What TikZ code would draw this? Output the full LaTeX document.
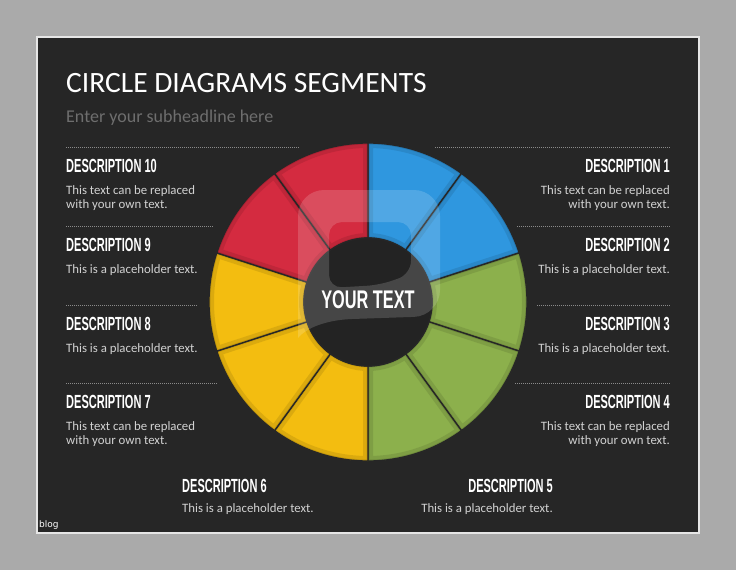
\documentclass[tikz,border=0pt]{standalone}
\usepackage{fontspec}
\setmainfont{Carlito}
\newfontfamily\headfont[FakeStretch=0.58]{Liberation Sans Bold}
\newfontfamily\hubfont[FakeStretch=0.64]{Liberation Sans Bold}
\newfontfamily\tagfont{DejaVu Sans}

\definecolor{pagegray}{HTML}{AAAAAA}
\definecolor{slidebg}{HTML}{262626}
\definecolor{slideedge}{HTML}{E6E6E6}
\definecolor{subgray}{HTML}{6E6E6E}
\definecolor{txtgray}{HTML}{D2D2D2}
\definecolor{dotgray}{HTML}{8A8A8A}
\definecolor{segred}{HTML}{D42B40}
\definecolor{segblue}{HTML}{2F97DF}
\definecolor{seggreen}{HTML}{8CB04C}
\definecolor{segyellow}{HTML}{F3BD10}
\definecolor{hubfill}{HTML}{232323}

\newcommand\segpath[1]{(#1:64) -- (#1:159) arc[start angle=#1, end angle=#1-36, radius=159] -- ({#1-36}:64) arc[start angle=#1-36, end angle=#1, radius=64] -- cycle}

\tikzset{
  heading/.style={font=\headfont\fontsize{19}{19}\selectfont, text=white, inner sep=0pt},
  bodytext/.style={font=\fontsize{12.8}{14}\selectfont, text=txtgray, inner sep=0pt},
  sepline/.style={dotgray, line width=1pt, dash pattern=on 1pt off 1pt},
  segedge/.style={draw=black!85, line width=1.3pt}
}

\begin{document}
\begin{tikzpicture}[x=1pt,y=-1pt]
  \useasboundingbox (0,0) rectangle (736,570);
  \fill[pagegray] (0,0) rectangle (736,570);
  \draw[slideedge, fill=slidebg, line width=1.5pt] (37,37) rectangle (699,533);

  % title
  \node[anchor=base west, inner sep=0pt, text=white, font=\fontsize{29.5}{30}\selectfont] (title) at (66,92) {CIRCLE DIAGRAMS SEGMENTS};
  \node[anchor=base west, inner sep=0pt, text=subgray, font=\fontsize{18}{18}\selectfont] (subtitle) at (66,122) {Enter your subheadline here};

  % ring of ten segments
  \begin{scope}[shift={(368,302)}, y=1pt]
    \foreach \a/\c in {90/segblue, 54/segblue, 18/seggreen, -18/seggreen, -54/seggreen,
                       -90/segyellow, -126/segyellow, -162/segyellow, 162/segred, 126/segred} {
      \fill[\c] \segpath{\a};
      \begin{scope}
        \clip \segpath{\a};
        \draw[\c!55!black, line width=10pt, opacity=.22] \segpath{\a};
        \draw[\c!55!black, line width=3pt, opacity=.3] \segpath{\a};
      \end{scope}
      \draw[segedge] \segpath{\a};
    }
    \fill[hubfill] (0,0) coordinate (hub) circle (64);
    \draw[segedge] (hub) circle (64);
  \end{scope}

  % faint logo over the hub
  \fill[white, opacity=.16, even odd rule]
    [rounded corners=26] (298,338) -- (298,190) -- (440,190) -- (440,316)
    [sharp corners] -- (352,319) .. controls (326,320) and (306,328) .. (298,338) -- cycle
    [rounded corners=13] (329,288) -- (329,222) -- (411,222) -- (411,274) -- (380,285) -- cycle;

  \node[anchor=base, inner sep=0pt, text=white, font=\hubfont\fontsize{25.5}{26}\selectfont] (yourtext) at (368,308) {YOUR TEXT};

  % left column
  \draw[sepline] (66,147) -- (299,147);
  \node[heading, anchor=base west] (d10) at (66,172) {DESCRIPTION 10};
  \node[bodytext, anchor=base west] (t10a) at (66,194) {This text can be replaced};
  \node[bodytext, anchor=base west] (t10b) at (66,208) {with your own text.};

  \draw[sepline] (66,226) -- (214,226);
  \node[heading, anchor=base west] (d9) at (66,251) {DESCRIPTION 9};
  \node[bodytext, anchor=base west] (t9) at (66,273) {This is a placeholder text.};

  \draw[sepline] (66,305) -- (197,305);
  \node[heading, anchor=base west] (d8) at (66,330) {DESCRIPTION 8};
  \node[bodytext, anchor=base west] (t8) at (66,352) {This is a placeholder text.};

  \draw[sepline] (66,383) -- (218,383);
  \node[heading, anchor=base west] (d7) at (66,408) {DESCRIPTION 7};
  \node[bodytext, anchor=base west] (t7a) at (66,430) {This text can be replaced};
  \node[bodytext, anchor=base west] (t7b) at (66,444) {with your own text.};

  % right column
  \draw[sepline] (435,147) -- (670,147);
  \node[heading, anchor=base east] (d1) at (670,172) {DESCRIPTION 1};
  \node[bodytext, anchor=base east] (t1a) at (670,194) {This text can be replaced};
  \node[bodytext, anchor=base east] (t1b) at (670,208) {with your own text.};

  \draw[sepline] (517,226) -- (670,226);
  \node[heading, anchor=base east] (d2) at (670,251) {DESCRIPTION 2};
  \node[bodytext, anchor=base east] (t2) at (670,273) {This is a placeholder text.};

  \draw[sepline] (537,305) -- (670,305);
  \node[heading, anchor=base east] (d3) at (670,330) {DESCRIPTION 3};
  \node[bodytext, anchor=base east] (t3) at (670,352) {This is a placeholder text.};

  \draw[sepline] (515,383) -- (670,383);
  \node[heading, anchor=base east] (d4) at (670,408) {DESCRIPTION 4};
  \node[bodytext, anchor=base east] (t4a) at (670,430) {This text can be replaced};
  \node[bodytext, anchor=base east] (t4b) at (670,444) {with your own text.};

  % bottom pair
  \node[heading, anchor=base west] (d6) at (182,492) {DESCRIPTION 6};
  \node[bodytext, anchor=base west] (t6) at (182,512) {This is a placeholder text.};
  \node[heading, anchor=base east] (d5) at (553,492) {DESCRIPTION 5};
  \node[bodytext, anchor=base east] (t5) at (553,512) {This is a placeholder text.};

  \node[anchor=base west, inner sep=0pt, text=white, font=\tagfont\fontsize{9}{9}\selectfont] (blog) at (39,527) {blog};
\end{tikzpicture}
\end{document}
